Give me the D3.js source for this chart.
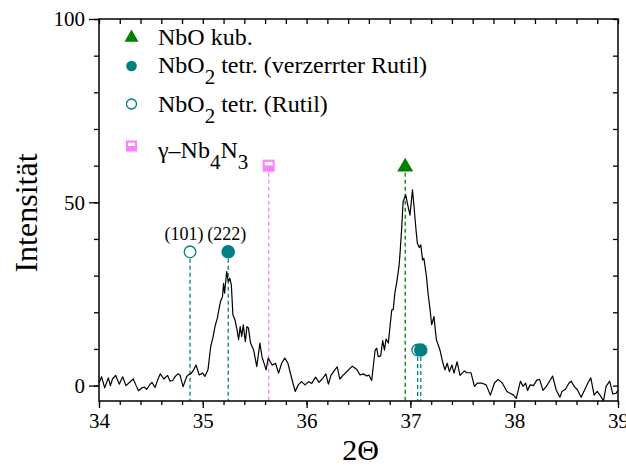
<!DOCTYPE html>
<html><head><meta charset="utf-8">
<script src="https://cdn.jsdelivr.net/npm/d3@7"></script>
<style>body{margin:0;background:#fff;} svg{display:block;font-family:"Liberation Serif","Times New Roman",serif;}</style>
</head><body>
<svg id="chart" width="626" height="466"></svg>
<script>
// ---- data ----
const twoTheta = [34.000,34.025,34.055,34.09,34.11,34.13,34.16,34.195,34.228,34.26,34.295,34.33,34.355,34.38,34.41,34.435,34.46,34.49,34.51,34.54,34.565,34.59,34.625,34.66,34.685,34.71,34.735,34.76,34.78,34.81,34.845,34.865,34.89,34.91,34.935,34.965,34.998,35.02,35.05,35.076,35.10,35.117,35.14,35.16,35.17,35.19,35.20,35.21,35.23,35.245,35.26,35.275,35.29,35.31,35.33,35.345,35.36,35.375,35.39,35.41,35.425,35.44,35.46,35.49,35.52,35.55,35.57,35.61,35.63,35.65,35.67,35.70,35.73,35.76,35.79,35.82,35.86,35.89,35.92,35.95,35.985,36.02,36.05,36.086,36.12,36.15,36.186,36.21,36.235,36.27,36.295,36.32,36.35,36.384,36.418,36.44,36.485,36.515,36.546,36.58,36.60,36.627,36.66,36.675,36.69,36.714,36.733,36.75,36.765,36.787,36.82,36.835,36.85,36.867,36.89,36.90,36.915,36.93,36.955,36.974,36.996,37.02,37.035,37.054,37.067,37.086,37.10,37.117,37.13,37.155,37.17,37.19,37.205,37.227,37.25,37.285,37.31,37.333,37.355,37.375,37.40,37.42,37.45,37.478,37.52,37.544,37.584,37.617,37.645,37.685,37.73,37.77,37.81,37.845,37.885,37.93,37.96,37.994,38.02,38.06,38.085,38.11,38.128,38.154,38.185,38.218,38.245,38.277,38.31,38.34,38.37,38.405,38.44,38.46,38.494,38.528,38.55,38.578,38.61,38.645,38.678,38.71,38.738,38.77,38.80,38.838,38.86,38.885,38.92,38.95,38.98,39.0];
const intensity = [0.7,2.4,-0.6,2.1,0.0,1.8,2.8,0.4,2.4,0.0,0.9,1.8,0.2,-1.4,-0.7,-0.4,-1.0,0.3,0.9,-0.5,1.5,3.2,1.8,2.8,1.2,1.4,2.5,3.2,2.9,-0.3,2.5,3.0,3.4,4.2,5.6,2.9,3.4,2.5,4.3,10.6,13.4,16.1,18.4,21.5,22.9,24.3,27.9,25.2,31.1,28.4,29.3,27.5,19.3,17.9,15.2,12.5,16.1,13.4,16.6,12.0,16.1,15.7,11.6,9.7,5.2,11.6,7.9,4.3,7.5,6.5,5.6,6.1,3.4,6.1,7.5,6.1,1.6,-1.6,0.2,1.1,0.2,1.1,0.6,2.3,0.9,1.8,3.2,0.4,2.8,4.2,5.1,1.8,2.8,3.7,4.7,5.3,4.4,2.9,3.2,2.6,2.9,1.4,9.7,10.2,7.9,8.1,12.3,9.7,12.7,11.6,20.6,20.8,25.2,27.9,32.5,36.0,42.5,50.2,52.0,49.3,46.5,53.4,48.8,42.5,38.8,37.7,38.4,34.3,34.7,29.7,25.2,20.6,16.6,18.8,12.5,9.7,6.5,4.3,6.1,3.8,5.6,3.4,6.5,2.8,4.0,3.5,3.5,-0.2,0.7,0.7,0.2,-2.6,0.7,1.7,0.7,-1.6,-2.1,-2.6,-3.5,1.2,-0.2,0.7,-1.3,0.2,0.0,1.5,1.7,-1.3,-0.2,1.2,2.6,-1.2,-3.2,-1.6,-1.0,0.7,1.2,-0.2,-1.2,-3.2,-1.2,0.7,2.1,-2.6,-1.6,-3.1,-4.2,-0.2,1.2,-2.3,-2.1,-1.3];

// reflex positions (2Θ, marker height)
const nboKubX = [36.95],  nboKubY = [60];
const nbo2VerzX = [35.245, 37.10], nbo2VerzY = [36.5, 9.7];
const nbo2RutilX = [34.877, 37.07], nbo2RutilY = [36.5, 9.7];
const nb4n3X = [35.635], nb4n3Y = [60];
const hklLabels = ["(101)", "(222)"];
const hklX = [34.877, 35.245];
const hklY = [36.5, 36.5];

const xTicks = [34, 35, 36, 37, 38, 39];
const yTicks = [0, 50, 100];

// ---- layout ----
const svg = d3.select("#chart");
const L = 99, R = 618, T = 19, B = 401;
const x = d3.scaleLinear().domain([34, 39]).range([L, R]);
const y = d3.scaleLinear().domain([-4.2, 100]).range([B, T]);

const cTeal = "#008080", cGreen = "#008000", cPink = "#ff7fff";

svg.append("clipPath").attr("id", "clip").append("rect")
  .attr("x", L).attr("y", T).attr("width", R - L).attr("height", B - T);

// dashed drop lines
function drop(xv, yv, col) {
  svg.append("line").attr("x1", x(xv)).attr("x2", x(xv)).attr("y1", y(yv)).attr("y2", B)
    .attr("stroke", col).attr("stroke-width", 1.3).attr("stroke-dasharray", "4,3");
}
nboKubX.forEach((v, i) => drop(v, nboKubY[i], cGreen));
nbo2VerzX.forEach((v, i) => drop(v, nbo2VerzY[i], cTeal));
nbo2RutilX.forEach((v, i) => drop(v, nbo2RutilY[i], cTeal));
nb4n3X.forEach((v, i) => drop(v, nb4n3Y[i], cPink));

// curve
const line = d3.line().x(d => x(d[0])).y(d => y(d[1]));
svg.append("path").datum(twoTheta.map((t, i) => [t, intensity[i]]))
  .attr("d", line).attr("fill", "none").attr("stroke", "#000").attr("stroke-width", 1.2)
  .attr("stroke-linejoin", "round").attr("clip-path", "url(#clip)");

// marker drawers
function tri(cx, cy, s) {
  svg.append("path").attr("d", d3.symbol().type(d3.symbolTriangle).size(s * s * 0.433)())
    .attr("transform", `translate(${cx},${cy + s * 0.08})`).attr("fill", cGreen);
}
function fcirc(cx, cy, r) {
  svg.append("circle").attr("cx", cx).attr("cy", cy).attr("r", r).attr("fill", cTeal);
}
function ocirc(cx, cy, r) {
  svg.append("circle").attr("cx", cx).attr("cy", cy).attr("r", r).attr("fill", "#fff")
    .attr("stroke", cTeal).attr("stroke-width", 1.3);
}
function hsq(cx, cy, s) {
  svg.append("rect").attr("x", cx - s / 2).attr("y", cy - s / 2).attr("width", s).attr("height", s).attr("fill", cPink);
  svg.append("rect").attr("x", cx - s / 2 + 2).attr("y", cy - s / 2 + 2.2).attr("width", s - 4).attr("height", s * 0.3).attr("fill", "#fff");
}

nboKubX.forEach((v, i) => tri(x(v), y(nboKubY[i]), 16));
nbo2RutilX.forEach((v, i) => ocirc(x(v), y(nbo2RutilY[i]), 5.8));
nbo2VerzX.forEach((v, i) => fcirc(x(v), y(nbo2VerzY[i]), 6.8));
nb4n3X.forEach((v, i) => hsq(x(v), y(nb4n3Y[i]), 12));

// hkl labels
const hklShift = [-6, -1.5];
hklLabels.forEach((t, i) => {
  svg.append("text").attr("x", x(hklX[i]) + hklShift[i]).attr("y", y(hklY[i]) - 12)
    .attr("text-anchor", "middle").attr("font-size", 18).text(t);
});

// frame
svg.append("rect").attr("x", L).attr("y", T).attr("width", R - L).attr("height", B - T)
  .attr("fill", "none").attr("stroke", "#000").attr("stroke-width", 1.5);

// axes
const xMinor = d3.range(34, 39.001, 0.2);
const yMinor = d3.range(0, 100.001, 10);
const gb = svg.append("g").attr("transform", `translate(0,${B})`)
  .call(d3.axisBottom(x).tickValues(xMinor).tickSize(4).tickFormat(""));
const gb2 = svg.append("g").attr("transform", `translate(0,${B})`)
  .call(d3.axisBottom(x).tickValues(xTicks).tickSize(7).tickPadding(5).tickFormat(d3.format("d")));
const gt = svg.append("g").attr("transform", `translate(0,${T})`)
  .call(d3.axisBottom(x).tickValues(xMinor).tickSize(5).tickFormat(""));
const gl = svg.append("g").attr("transform", `translate(${L},0)`)
  .call(d3.axisLeft(y).tickValues(yMinor).tickSize(5).tickFormat(""));
const gl2 = svg.append("g").attr("transform", `translate(${L},0)`)
  .call(d3.axisLeft(y).tickValues(yTicks).tickSize(10).tickPadding(4).tickFormat(d3.format("d")));
const gr = svg.append("g").attr("transform", `translate(${R},0)`)
  .call(d3.axisLeft(y).tickValues(yMinor).tickSize(5).tickFormat(""));
[gb, gb2, gt, gl, gl2, gr].forEach(g => {
  g.select(".domain").remove();
  g.selectAll("line").attr("stroke", "#000").attr("stroke-width", 1.3);
  g.selectAll("text").attr("font-family", "Liberation Serif").attr("font-size", 21).attr("fill", "#000");
});

// axis titles
svg.append("text").attr("x", (L + R) / 2 + 2).attr("y", 460).attr("text-anchor", "middle")
  .attr("font-size", 30).text("2Θ");
svg.append("text").attr("transform", `translate(37,${213}) rotate(-90)`)
  .attr("text-anchor", "middle").attr("font-size", 32).text("Intensität");

// legend
const lx = 131.5, tx = 158;
tri(lx, 36.5, 14);
fcirc(lx, 66, 5.3);
ocirc(lx, 104, 5);
hsq(lx, 146, 11);
function legText(yb, parts) {
  const t = svg.append("text").attr("x", tx).attr("y", yb).attr("font-size", 24);
  parts.forEach(p => {
    if (p.sub) {
      t.append("tspan").attr("font-size", 21).attr("dy", 11).text(p.t);
    } else {
      t.append("tspan").attr("dy", p.after ? -11 : 0).text(p.t);
    }
  });
}
legText(44.5, [{t: "NbO kub."}]);
legText(73, [{t: "NbO"}, {t: "2", sub: true}, {t: " tetr. (verzerrter Rutil)", after: true}]);
legText(112, [{t: "NbO"}, {t: "2", sub: true}, {t: " tetr. (Rutil)", after: true}]);
legText(158, [{t: "γ–Nb"}, {t: "4", sub: true}, {t: "N", after: true}, {t: "3", sub: true}]);
</script>
</body></html>
